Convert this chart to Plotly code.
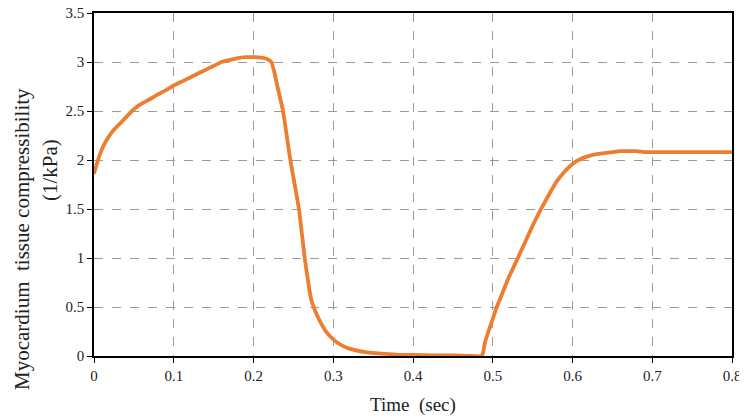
import plotly.graph_objects as go

time_s = [0, 0.005, 0.011, 0.017, 0.024, 0.03, 0.036, 0.043, 0.049, 0.055, 0.061, 0.07, 0.078, 0.09,
          0.1, 0.11, 0.12, 0.13, 0.14, 0.15, 0.16, 0.17, 0.18, 0.19, 0.2, 0.21, 0.217, 0.2224, 0.226,
          0.23, 0.237, 0.2462, 0.257, 0.2642, 0.27, 0.2726, 0.2755, 0.28, 0.285, 0.29, 0.3, 0.31,
          0.32, 0.33, 0.34, 0.36, 0.38, 0.4, 0.45, 0.47, 0.4857, 0.488, 0.49, 0.495, 0.5, 0.505,
          0.51, 0.52, 0.5315, 0.54, 0.55, 0.56, 0.57, 0.58, 0.59, 0.6, 0.61, 0.62, 0.63, 0.64,
          0.65, 0.66, 0.67, 0.68, 0.69, 0.7, 0.75, 0.8]
compressibility = [1.86, 2.0, 2.13, 2.22, 2.30, 2.35, 2.40, 2.46, 2.51, 2.55, 2.58, 2.62, 2.66, 2.71,
                   2.76, 2.80, 2.84, 2.88, 2.92, 2.96, 3.00, 3.02, 3.04, 3.05, 3.05, 3.045, 3.03, 3.0,
                   2.9, 2.75, 2.5, 2.0, 1.5, 1.0, 0.68, 0.57, 0.5, 0.41, 0.33, 0.26, 0.17, 0.11,
                   0.075, 0.055, 0.04, 0.025, 0.015, 0.01, 0.005, 0.002, 0.0, 0.04, 0.13, 0.26, 0.38,
                   0.5, 0.6, 0.8, 1.0, 1.15, 1.33, 1.49, 1.64, 1.78, 1.88, 1.96, 2.01, 2.04, 2.06,
                   2.07, 2.08, 2.09, 2.09, 2.09, 2.08, 2.08, 2.08, 2.08]

x_ticks = [0, 0.1, 0.2, 0.3, 0.4, 0.5, 0.6, 0.7, 0.8]
x_tick_labels = ["0", "0.1", "0.2", "0.3", "0.4", "0.5", "0.6", "0.7", "0.8"]
y_ticks = [0, 0.5, 1, 1.5, 2, 2.5, 3, 3.5]
y_tick_labels = ["0", "0.5", "1", "1.5", "2", "2.5", "3", "3.5"]

FONT = "Liberation Serif, Times New Roman, serif"

fig = go.Figure()
fig.add_trace(go.Scatter(x=time_s, y=compressibility, mode="lines",
                         line=dict(color="#ED7D31", width=3.8, shape="spline", smoothing=0.4),
                         showlegend=False, hoverinfo="skip"))

axis_common = dict(showline=True, linecolor="black", linewidth=1.5, mirror=True,
                   showgrid=True, gridcolor="#9a9a9a", griddash="dash", gridwidth=1,
                   zeroline=False, ticks="outside", ticklen=5, tickcolor="black",
                   automargin=False, ticklabeloverflow="allow",
                   tickfont=dict(family=FONT, size=15, color="#222"))

fig.update_xaxes(range=[0, 0.8], tickvals=x_ticks, ticktext=x_tick_labels, **axis_common)
fig.update_yaxes(range=[0, 3.5], tickvals=y_ticks, ticktext=y_tick_labels, **axis_common)

fig.update_layout(
    width=739, height=412,
    margin=dict(l=86, r=15, t=5, b=64, autoexpand=False),
    paper_bgcolor="white", plot_bgcolor="white",
    font=dict(family=FONT, color="#222"),
    annotations=[
        dict(text="Myocardium  tissue compressibility", xref="paper", yref="paper",
             x=-0.113, y=0.341, xanchor="center", yanchor="middle", textangle=-90,
             showarrow=False, font=dict(family=FONT, size=21, color="#222")),
        dict(text="(1/kPa)", xref="paper", yref="paper",
             x=-0.069, y=0.542, xanchor="center", yanchor="middle", textangle=-90,
             showarrow=False, font=dict(family=FONT, size=21, color="#222")),
        dict(text="Time  (sec)", xref="paper", yref="paper",
             x=0.5, y=-0.143, xanchor="center", yanchor="middle",
             showarrow=False, font=dict(family=FONT, size=19, color="#222")),
    ],
)

fig.write_html("out.html")
